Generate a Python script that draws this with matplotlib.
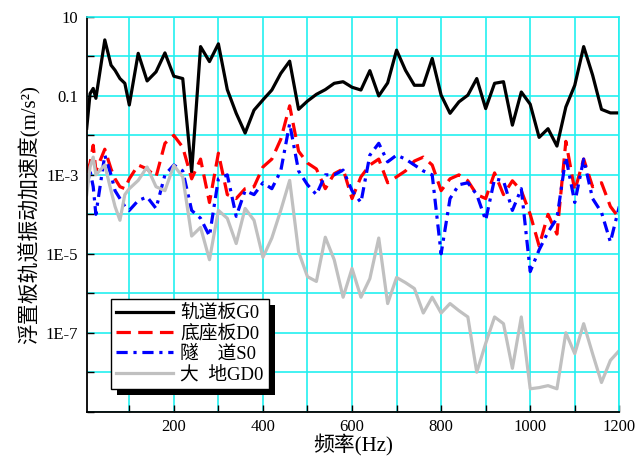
import numpy as np
import matplotlib
matplotlib.use('Agg')
import matplotlib.pyplot as plt
from matplotlib.patches import Rectangle
from matplotlib.transforms import IdentityTransform
from matplotlib.ticker import NullLocator, FixedLocator

plt.rcParams['font.family'] = ['Liberation Serif', 'Noto Sans CJK SC']

# ---- data (frequency in Hz, amplitude as log10 of m/s^2) ----
freq = [4.4, 12, 19, 25, 45, 59, 68, 79, 90,
        100, 120, 140, 160, 180, 200, 220, 240, 260, 280,
        300, 320, 340, 360, 380, 400, 420, 440, 460, 480,
        500, 520, 540, 560, 580, 600, 620, 640, 660, 680,
        700, 720, 740, 760, 780, 800, 820, 840, 860, 880,
        900, 920, 940, 960, 980, 1000, 1020, 1040, 1060, 1080,
        1100, 1120, 1140, 1160, 1180, 1200]

g0_log = [-1.82, -0.94, -0.81, -1.06, 0.42, -0.22, -0.35, -0.56, -0.68,
          -1.23, 0.08, -0.62, -0.39, 0.09, -0.50, -0.56, -2.93, 0.25, -0.13,
          0.32, -0.84, -1.44, -1.94, -1.36, -1.10, -0.85, -0.43, -0.12, -1.34,
          -1.13, -0.96, -0.84, -0.68, -0.64, -0.78, -0.85, -0.36, -1.00, -0.67,
          0.16, -0.35, -0.73, -0.73, -0.05, -0.98, -1.44, -1.15, -0.98, -0.56,
          -1.32, -0.68, -0.64, -1.74, -0.90, -1.21, -2.05, -1.83, -2.27, -1.28,
          -0.73, 0.25, -0.47, -1.34, -1.43, -1.43]

d0_log = [-2.95, -2.7, -2.25, -2.9, -2.35, -2.85, -3.1, -3.3, -3.35,
          -3.1, -2.75, -2.85, -3.05, -2.2, -2.0, -2.3, -3.1, -2.6, -3.7,
          -2.45, -3.5, -3.6, -3.35, -3.3, -2.8, -2.6, -2.1, -1.25, -2.4,
          -2.7, -2.85, -3.35, -2.97, -2.85, -3.6, -3.05, -2.75, -2.6, -3.2,
          -3.05, -2.9, -2.65, -2.55, -2.75, -3.4, -3.1, -3.0, -3.15, -3.5,
          -3.6, -2.95, -3.5, -3.15, -3.4, -4.0, -4.8, -4.0, -4.5, -2.15,
          -3.4, -2.6, -3.3, -3.2, -3.8, -4.1]

s0_log = [-3.3, -2.9, -3.3, -4.0, -2.5, -3.0, -3.4, -3.6, -3.8,
          -3.9, -3.65, -3.56, -3.85, -3.0, -2.75, -2.9, -3.9, -4.1, -4.55,
          -3.1, -3.0, -4.05, -3.4, -3.5, -3.2, -3.35, -2.9, -1.7, -2.9,
          -3.25, -3.5, -3.0, -3.0, -2.88, -3.4, -3.7, -2.5, -2.2, -2.67,
          -2.5, -2.6, -2.75, -2.9, -3.0, -5.0, -3.6, -3.25, -3.2, -3.5,
          -4.15, -3.1, -3.15, -3.9, -3.35, -5.45, -4.9, -4.45, -4.1, -2.55,
          -3.7, -2.6, -3.6, -3.95, -4.7, -3.8]

gd0_log = [-3.5, -2.8, -2.55, -3.0, -2.75, -3.4, -3.8, -4.15, -3.5,
           -3.35, -3.14, -2.8, -3.3, -3.4, -2.76, -3.05, -4.55, -4.33, -5.15,
           -3.9, -4.1, -4.74, -3.85, -4.15, -5.09, -4.6, -3.9, -3.14, -4.95,
           -5.58, -5.7, -4.58, -5.15, -6.1, -5.37, -6.1, -5.63, -4.6, -6.26,
           -5.6, -5.73, -5.88, -6.5, -6.1, -6.5, -6.26, -6.44, -6.6, -8.0,
           -7.27, -6.6, -6.77, -7.9, -6.6, -8.42, -8.39, -8.34, -8.42, -7.0,
           -7.53, -6.77, -7.53, -8.26, -7.7, -7.45]

labels = ['轨道板G0', '底座板D0', '隧\u3000道S0', '大  地GD0']

xtick_major = [200, 400, 600, 800, 1000, 1200]
xtick_minor = [100, 300, 500, 700, 900, 1100]
ytick_decades = [1e-9, 1e-8, 1e-7, 1e-6, 1e-5, 1e-4, 1e-3, 1e-2, 1e-1, 1e0, 1e1]
ytick_text = ['', '', '1E-7', '', '1E-5', '', '1E-3', '', '0.1', '', '10']

# ---- figure ----
fig = plt.figure(figsize=(6.38, 4.62), dpi=100)
ax = fig.add_axes([0.1359, 0.1089, 0.9707 - 0.1359, 0.9632 - 0.1089])
ax.set_yscale('log')
ax.set_xlim(4.4, 1200)
ax.set_ylim(1e-9, 10)

f = np.array(freq)
lw = 2.3
l1, = ax.plot(f, 10 ** np.array(g0_log), color='black', lw=lw)
l2, = ax.plot(f, 10 ** np.array(d0_log), color='#FF0000', lw=lw, dashes=(4.5, 2.3))
l3, = ax.plot(f, 10 ** np.array(s0_log), color='#0000FF', lw=lw, dashes=(3.5, 1.8, 1, 1.8))
l4, = ax.plot(f, 10 ** np.array(gd0_log), color='#C0C0C0', lw=lw)

ax.xaxis.set_major_locator(FixedLocator(xtick_major))
ax.xaxis.set_minor_locator(FixedLocator(xtick_minor))
ax.set_yticks(ytick_decades)
ax.set_yticklabels(ytick_text)
ax.yaxis.set_minor_locator(NullLocator())

ax.grid(True, which='both', axis='x', color='#22F0F0', lw=1.2)
ax.grid(True, which='major', axis='y', color='#22F0F0', lw=1.2)
ax.set_axisbelow(True)

ax.tick_params(axis='both', which='both', direction='in', length=5, width=1.0,
               labelsize=12, pad=6)
ax.tick_params(axis='x', pad=5)

for s in ['top', 'right']:
    ax.spines[s].set_color('#22F0F0')
    ax.spines[s].set_linewidth(1.2)
for s in ['left', 'bottom']:
    ax.spines[s].set_color('black')
    ax.spines[s].set_linewidth(1.3)

ax.set_xlabel('频率(Hz)', fontsize=15, labelpad=0)
ax.set_ylabel('浮置板轨道振动加速度(m/s²)', fontsize=15, labelpad=4)

leg = ax.legend([l1, l2, l3, l4], labels, loc='lower left',
                bbox_to_anchor=(0.045, 0.058), borderaxespad=0,
                frameon=True, fancybox=False, framealpha=1, edgecolor='black',
                fontsize=13.5, handlelength=3.0, handletextpad=0.4,
                labelspacing=0.15, borderpad=0.3)
leg.get_frame().set_linewidth(1.0)

fig.canvas.draw()
bb = leg.get_frame().get_window_extent()
shadow = Rectangle((bb.x0 + 6, bb.y0 - 6), bb.width, bb.height,
                   transform=IdentityTransform(), facecolor='black',
                   edgecolor='none', zorder=leg.get_zorder() - 0.1)
shadow.set_clip_on(False)
ax.add_artist(shadow)

fig.savefig('out.png', dpi=100)
